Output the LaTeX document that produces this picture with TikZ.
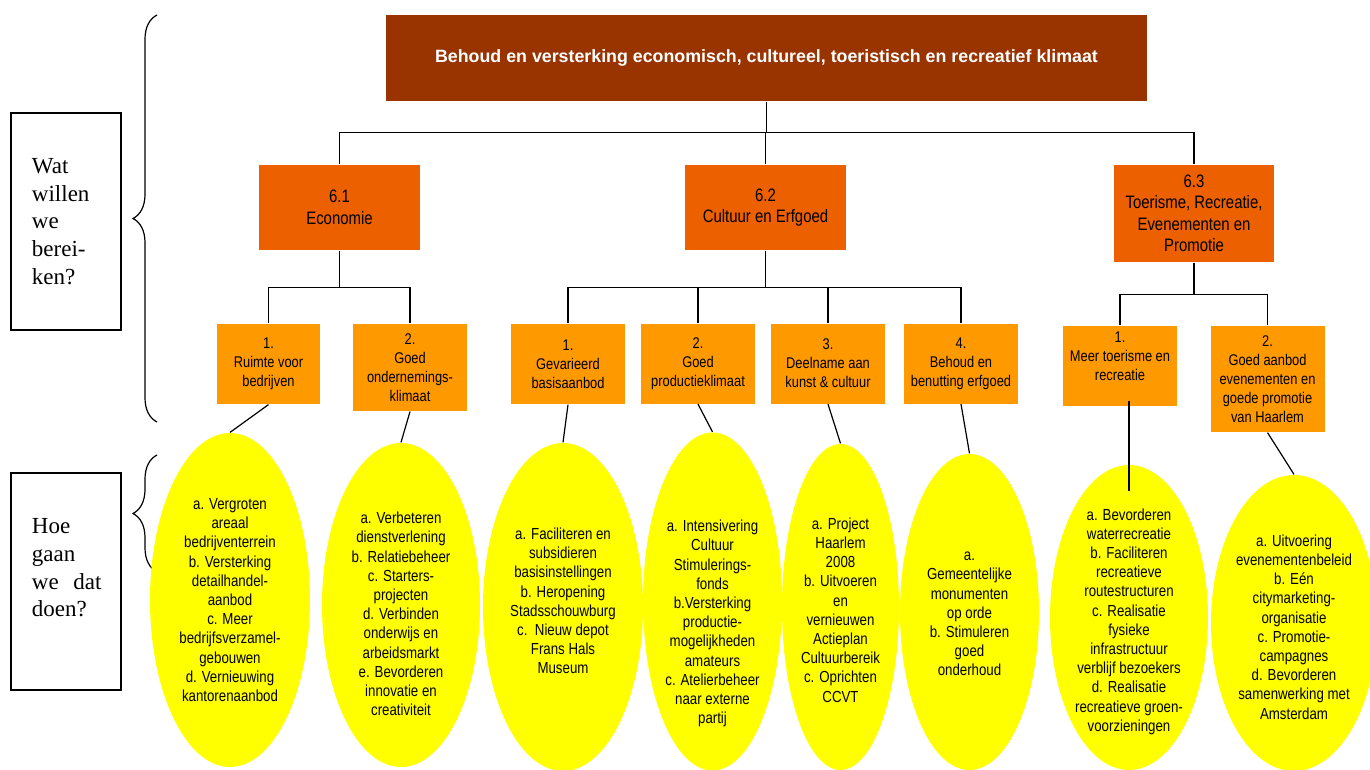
\documentclass[tikz,border=0pt]{standalone}
\usepackage{fontspec}
\setmainfont{Liberation Sans}
\newfontfamily\narrow{Liberation Sans}[FakeStretch=0.83]
\newfontfamily\serifbox{Liberation Serif}
\usetikzlibrary{positioning, shapes.geometric, decorations.pathreplacing, calc}
\definecolor{topbrown}{HTML}{993300}
\definecolor{orangeA}{RGB}{236,96,0}
\definecolor{orangeB}{HTML}{FF9900}
\definecolor{blobyellow}{HTML}{FFFF00}

\begin{document}
\begin{tikzpicture}[x=0.5pt, y=-0.5pt, line width=0.6pt,
	goal/.style={fill=topbrown, text=white, font=\bfseries\fontsize{8.9}{10.5}\selectfont,
		minimum width=380.5pt, minimum height=43pt, inner sep=0pt},
	field/.style={fill=orangeA, align=center, inner sep=0pt,
		font=\narrow\fontsize{9}{10.75}\selectfont, minimum width=80.5pt, minimum height=42.5pt},
	aim/.style={fill=orangeB, align=center, inner sep=0pt,
		font=\narrow\fontsize{7.75}{9.5}\selectfont, minimum width=57pt, minimum height=40pt},
	blob/.style={ellipse, fill=blobyellow, inner sep=0pt},
	blobtext/.style={align=center, inner sep=0pt, font=\narrow\fontsize{8}{9.6}\selectfont},
	askbox/.style={draw, line width=0.9pt, align=left, inner xsep=10.5pt, inner ysep=0pt,
		text width=34pt, minimum width=55pt, minimum height=108.5pt,
		font=\serifbox\fontsize{11.5}{13.8}\selectfont}]
\useasboundingbox (0,0) rectangle (1370,770);

\node[askbox] (wat) at (66,221.5) {Wat\\willen\\we\\berei-\\ken?};
\node[askbox] (hoe) at (66,581.5) {Hoe\\gaan\\\mbox{we\hspace{3.5pt} dat}\\doen?\\~};
\draw[decorate, decoration={brace, amplitude=12pt}] (157,422) -- (157,15);
\draw[decorate, decoration={brace, amplitude=12pt}] (157,572) -- (157,455);

\node[goal] (top) at (766.5,58) {Behoud en versterking economisch, cultureel, toeristisch en recreatief klimaat};

\node[field] (eco) at (339.5,207.5) {6.1\\Economie};
\node[field] (cul) at (765.5,207.5) {6.2\\Cultuur en Erfgoed};
\node[field, minimum width=80pt, minimum height=48.5pt] (tou) at (1194,213.5) {6.3\\Toerisme, Recreatie,\\Evenementen en\\Promotie};

\node[aim, minimum width=51.5pt] (ecoA) at (268.5,364) {1.\\Ruimte voor\\bedrijven};
\node[aim, minimum height=43.5pt] (ecoB) at (410,367.5) {2.\\Goed\\ondernemings-\\klimaat};
\node[aim] (culA) at (568,364) {1.\\Gevarieerd\\basisaanbod};
\node[aim] (culB) at (698,363.5) {2.\\Goed\\productieklimaat};
\node[aim] (culC) at (828,363.5) {3.\\Deelname aan\\kunst \& cultuur};
\node[aim] (culD) at (961,363.5) {4.\\Behoud en\\benutting erfgoed};
\node[aim] (touA) at (1120,366) {1.\\Meer toerisme en\\recreatie\\~};
\node[aim, minimum height=53pt] (touB) at (1267.5,379) {2.\\Goed aanbod\\evenementen en\\goede promotie\\van Haarlem};

\node[blob, minimum width=80pt, minimum height=167pt] (ecoAe) at (230,600) {};
\node[blob, minimum width=79pt, minimum height=162pt] (ecoBe) at (401,605) {};
\node[blob, minimum width=80pt, minimum height=164pt] (culAe) at (563,607) {};
\node[blob, minimum width=69.5pt, minimum height=169pt] (culBe) at (712.5,601.5) {};
\node[blob, minimum width=58.5pt, minimum height=163pt] (culCe) at (840.5,607) {};
\node[blob, minimum width=69.5pt, minimum height=158pt] (culDe) at (969.5,612) {};
\node[blob, minimum width=79pt, minimum height=152.5pt] (touAe) at (1129,617.5) {};
\node[blob, minimum width=83pt, minimum height=148pt] (touBe) at (1294,623) {};

\node[blobtext] (ecoAt) at ([yshift=0pt]ecoAe.center) {a. Vergroten\\areaal\\bedrijventerrein\\b. Versterking\\detailhandel-\\aanbod\\c. Meer\\bedrijfsverzamel-\\gebouwen\\d. Vernieuwing\\kantorenaanbod};
\node[blobtext] (ecoBt) at ([yshift=-4.5pt]ecoBe.center) {a. Verbeteren\\dienstverlening\\b. Relatiebeheer\\c. Starters-\\projecten\\d. Verbinden\\onderwijs en\\arbeidsmarkt\\e. Bevorderen\\innovatie en\\creativiteit};
\node[blobtext] (culAt) at ([yshift=3pt]culAe.center) {a. Faciliteren en\\subsidieren\\basisinstellingen\\b. Heropening\\Stadsschouwburg\\c.~~Nieuw depot\\Frans Hals\\Museum};
\node[blobtext] (culBt) at ([yshift=-11pt]culBe.center) {a. Intensivering\\Cultuur\\Stimulerings-\\fonds\\b.Versterking\\productie-\\mogelijkheden\\amateurs\\c. Atelierbeheer\\naar externe\\partij};
\node[blobtext] (culCt) at ([yshift=-1.5pt]culCe.center) {a. Project\\Haarlem\\2008\\b. Uitvoeren\\en\\vernieuwen\\Actieplan\\Cultuurbereik\\c. Oprichten\\CCVT};
\node[blobtext] (culDt) at ([yshift=-1pt]culDe.center) {a.\\Gemeentelijke\\monumenten\\op orde\\b. Stimuleren\\goed\\onderhoud};
\node[blobtext] (touAt) at ([yshift=-2pt]touAe.center) {a. Bevorderen\\waterrecreatie\\b. Faciliteren\\recreatieve\\routestructuren\\c. Realisatie\\fysieke\\infrastructuur\\verblijf bezoekers\\d. Realisatie\\recreatieve groen-\\voorzieningen};
\node[blobtext] (touBt) at ([yshift=-2pt]touBe.center) {a. Uitvoering\\evenementenbeleid\\b. Eén\\citymarketing-\\organisatie\\c. Promotie-\\campagnes\\d. Bevorderen\\samenwerking met\\Amsterdam};

\draw (top.south) -- ++(0,31) coordinate (busA);
\draw (eco.north) |- (busA) -| (tou.north);
\draw (cul.north) -- (cul.north |- busA);

\draw (eco.south) -- ++(0,37) coordinate (busB);
\draw (ecoA.north) |- (busB) -| (ecoB.north);
\draw (cul.south) -- ++(0,37) coordinate (busC);
\draw (culA.north) |- (busC) -| (culD.north);
\draw (culB.north) -- (culB.north |- busC);
\draw (culC.north) -- (culC.north |- busC);
\draw (tou.south) -- ++(0,32) coordinate (busD);
\draw (touA.north) |- (busD) -| (touB.north);

\draw (ecoA.south) -- (ecoAe.north);
\draw (ecoB.south) -- (ecoBe.north);
\draw (culA.south) -- (culAe.north);
\draw (culB.south) -- (culBe.north);
\draw (culC.south) -- (culCe.north);
\draw (culD.south) -- (culDe.north);
\draw ([yshift=3pt]touA.south -| touAe.north) -- ([yshift=-13.5pt]touAe.north);
\draw (touB.south) -- (touBe.north);
\end{tikzpicture}
\end{document}
